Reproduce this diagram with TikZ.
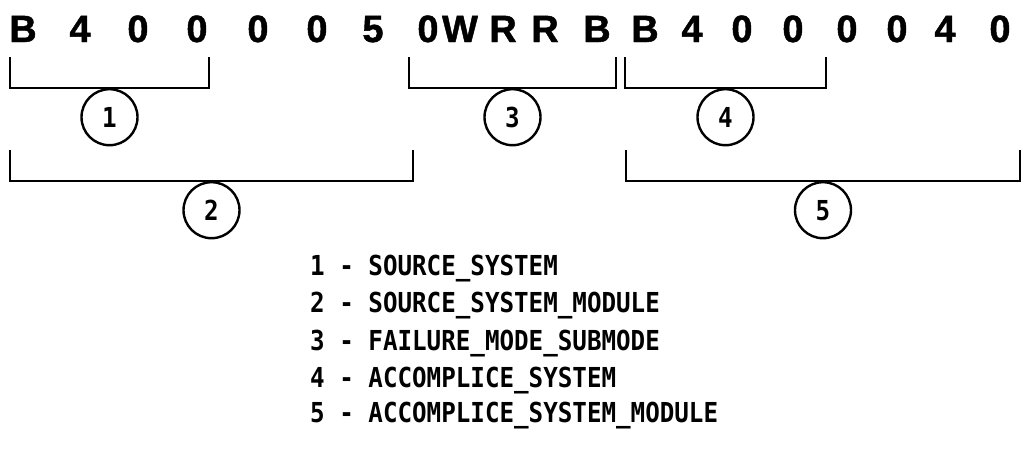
\documentclass[tikz,border=0pt]{standalone}
\usepackage{fontspec}
\setmainfont{Liberation Sans}
\newfontfamily\codefont[BoldFeatures={FakeBold=1.2}]{Liberation Sans}
\newfontfamily\legendfont[FakeStretch=0.88]{DejaVu Sans Mono}
\usetikzlibrary{calc, positioning}

\tikzset{
  codechar/.style={font=\codefont\fontsize{38}{40}\selectfont\bfseries, inner sep=0pt, anchor=base},
  fieldnum/.style={draw, circle, line width=2.4pt, minimum size=56pt, inner sep=0pt,
    font=\legendfont\fontsize{27.5}{30}\selectfont\bfseries},
  legendline/.style={anchor=base west, inner sep=0pt, font=\legendfont\fontsize{27.5}{30}\selectfont\bfseries},
  bracketline/.style={line width=2.6pt}
}

\begin{document}
\begin{tikzpicture}[x=1pt,y=-1pt]
\useasboundingbox (0,0) rectangle (1021,450);
\def\brackh{31}

% the code string
\foreach \cx/\ch [count=\i] in {23/B, 80/4, 138/0, 197/0, 258/0, 317/0, 373/5, 428/0,
    460/W, 503/R, 545/R, 597/B,
    645/B, 692/4, 742/0, 793/0, 847/0, 897/0, 945/4, 1000/0}
  \node[codechar] (ch\i) at (\cx,42) {\ch};

% bracket corners (bottom left / bottom right)
\coordinate (bOneL) at (10,88);
\coordinate (bOneR) at (209,88);
\coordinate (bTwoL) at (10,181);
\coordinate (bTwoR) at (413,181);
\coordinate (bThreeL) at (409,88);
\coordinate (bThreeR) at (616,88);
\coordinate (bFourL) at (625,88);
\coordinate (bFourR) at (826,88);
\coordinate (bFiveL) at (626,181);
\coordinate (bFiveR) at (1020,181);

\draw[bracketline] (bOneL) ++(0,-\brackh) -- (bOneL) -- (bOneR) -- ++(0,-\brackh);
\draw[bracketline] (bTwoL) ++(0,-\brackh) -- (bTwoL) -- (bTwoR) -- ++(0,-\brackh);
\draw[bracketline] (bThreeL) ++(0,-\brackh) -- (bThreeL) -- (bThreeR) -- ++(0,-\brackh);
\draw[bracketline] (bFourL) ++(0,-\brackh) -- (bFourL) -- (bFourR) -- ++(0,-\brackh);
\draw[bracketline] (bFiveL) ++(0,-\brackh) -- (bFiveL) -- (bFiveR) -- ++(0,-\brackh);

\coordinate (mOne) at ($(bOneL)!0.5!(bOneR)$);
\coordinate (mTwo) at ($(bTwoL)!0.5!(bTwoR)$);
\coordinate (mThree) at ($(bThreeL)!0.5!(bThreeR)$);
\coordinate (mFour) at ($(bFourL)!0.5!(bFourR)$);
\coordinate (mFive) at ($(bFiveL)!0.5!(bFiveR)$);

\node[fieldnum, below=0pt of mOne] (cOne) {1};
\node[fieldnum, below=0pt of mTwo] (cTwo) {2};
\node[fieldnum, below=0pt of mThree] (cThree) {3};
\node[fieldnum, below=0pt of mFour] (cFour) {4};
\node[fieldnum, below=0pt of mFive] (cFive) {5};

% legend
\node[legendline] (lOne) at (310,275) {1 - SOURCE\_SYSTEM};
\node[legendline] (lTwo) at (310,312) {2 - SOURCE\_SYSTEM\_MODULE};
\node[legendline] (lThree) at (310,350) {3 - FAILURE\_MODE\_SUBMODE};
\node[legendline] (lFour) at (310,387) {4 - ACCOMPLICE\_SYSTEM};
\node[legendline] (lFive) at (310,422) {5 - ACCOMPLICE\_SYSTEM\_MODULE};
\end{tikzpicture}
\end{document}
